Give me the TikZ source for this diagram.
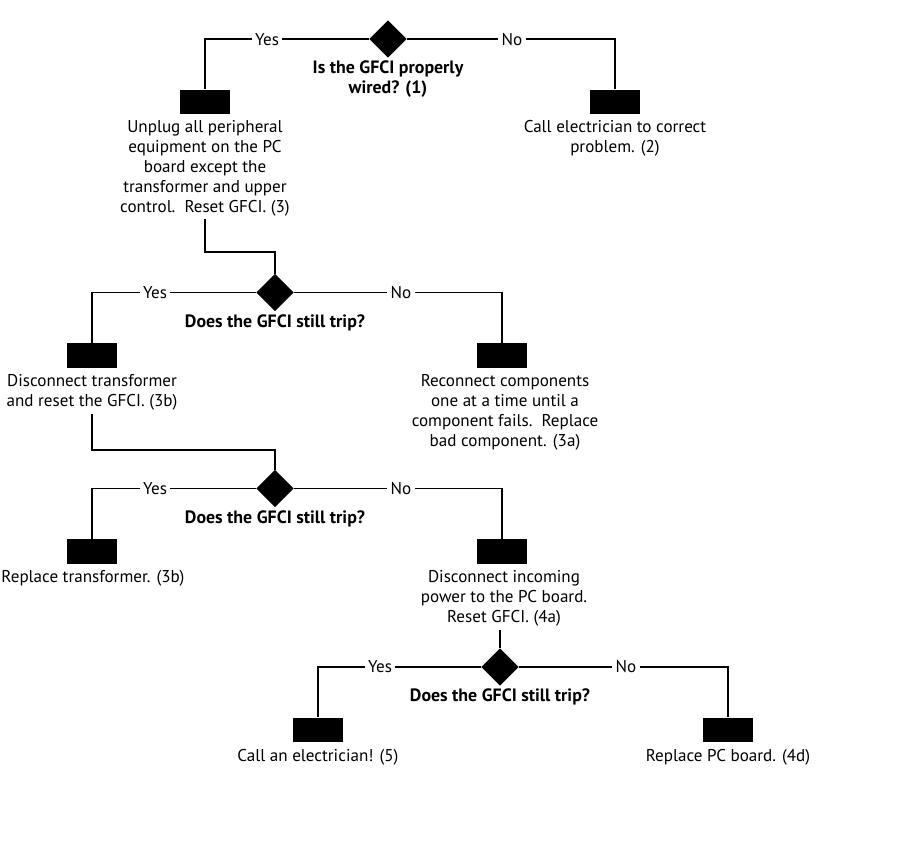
\documentclass[tikz,border=0pt]{standalone}
\usepackage{fontspec}
\setmainfont{PT Sans}
\usetikzlibrary{shapes.geometric}
\begin{document}
\begin{tikzpicture}[x=0.75pt,y=-0.75pt,
  dec/.style={diamond, fill=black, minimum width=28pt, minimum height=28pt, inner sep=0pt},
  blk/.style={rectangle, fill=black, minimum width=37.5pt, minimum height=18.5pt, inner sep=0pt},
  txt/.style={align=center, font=\fontsize{12.8}{15}\selectfont, inner sep=0pt, text=black},
  qtxt/.style={align=center, font=\fontsize{13.4}{15}\selectfont\bfseries, inner sep=0pt},
  lab/.style={fill=white, inner sep=2.5pt, font=\fontsize{12.8}{15}\selectfont},
  ln/.style={line width=1.1pt}]
\useasboundingbox (0,0) rectangle (900,860);
\fill[white] (0,0) rectangle (900,860);

% Row 1
\node[dec] (d1) at (388,39) {};
\node[qtxt] (q1) at (388,79) {Is the GFCI properly\\wired? (1)};
\node[blk] (b1) at (205,102) {};
\node[blk] (b2) at (615,102) {};
\node[txt] (t1) at (205,168) {Unplug all peripheral\\equipment on the PC\\board except the\\transformer and upper\\control.\ \ Reset GFCI. (3)};
\node[txt] (t2) at (615,138) {Call electrician to correct\\problem. (2)};

% Row 2
\node[dec] (d2) at (275,292.5) {};
\node[qtxt] (q2) at (275,322.5) {Does the GFCI still trip?};
\node[blk] (b3) at (92,355.5) {};
\node[blk] (b4) at (502,355.5) {};
\node[txt] (t3) at (92,392) {Disconnect transformer\\and reset the GFCI. (3b)};
\node[txt] (t4) at (505,412) {Reconnect components\\one at a time until a\\component fails.\ \ Replace\\bad component. (3a)};

% Row 3
\node[dec] (d3) at (275,488.5) {};
\node[qtxt] (q3) at (275,518.5) {Does the GFCI still trip?};
\node[blk] (b5) at (92,551.5) {};
\node[blk] (b6) at (502,551.5) {};
\node[txt] (t5) at (93,578) {Replace transformer. (3b)};
\node[txt] (t6) at (504,598) {Disconnect incoming\\power to the PC board.\\Reset GFCI. (4a)};

% Row 4
\node[dec] (d4) at (500,667) {};
\node[qtxt] (q4) at (500,696.5) {Does the GFCI still trip?};
\node[blk] (b7) at (318,730) {};
\node[blk] (b8) at (728,730) {};
\node[txt] (t7) at (318,757) {Call an electrician! (5)};
\node[txt] (t8) at (728,757) {Replace PC board. (4d)};

% junction coordinates
\coordinate (j1) at (275,252);
\coordinate (j2) at (275,450);

% connectors
\draw[ln] (d1.west) -| (b1.north);
\draw[ln] (d1.east) -| (b2.north);
\draw[ln] ([yshift=-2pt]t1.south) |- (j1) -- (d2.north);
\draw[ln] (d2.west) -| (b3.north);
\draw[ln] (d2.east) -| (b4.north);
\draw[ln] ([yshift=-3pt]t3.south) |- (j2) -- (d3.north);
\draw[ln] (d3.west) -| (b5.north);
\draw[ln] (d3.east) -| (b6.north);
\draw[ln] (d4.north) -- ([yshift=-3pt]d4.north |- t6.south);
\draw[ln] (d4.west) -| (b7.north);
\draw[ln] (d4.east) -| (b8.north);

% labels
\node[lab] (y1) at (267,40) {Yes};
\node[lab] (n1) at (512,40) {No};
\node[lab] (y2) at (155,292.5) {Yes};
\node[lab] (n2) at (401,292.5) {No};
\node[lab] (y3) at (155,488.5) {Yes};
\node[lab] (n3) at (401,488.5) {No};
\node[lab] (y4) at (380,667) {Yes};
\node[lab] (n4) at (626,667) {No};
\end{tikzpicture}
\end{document}
